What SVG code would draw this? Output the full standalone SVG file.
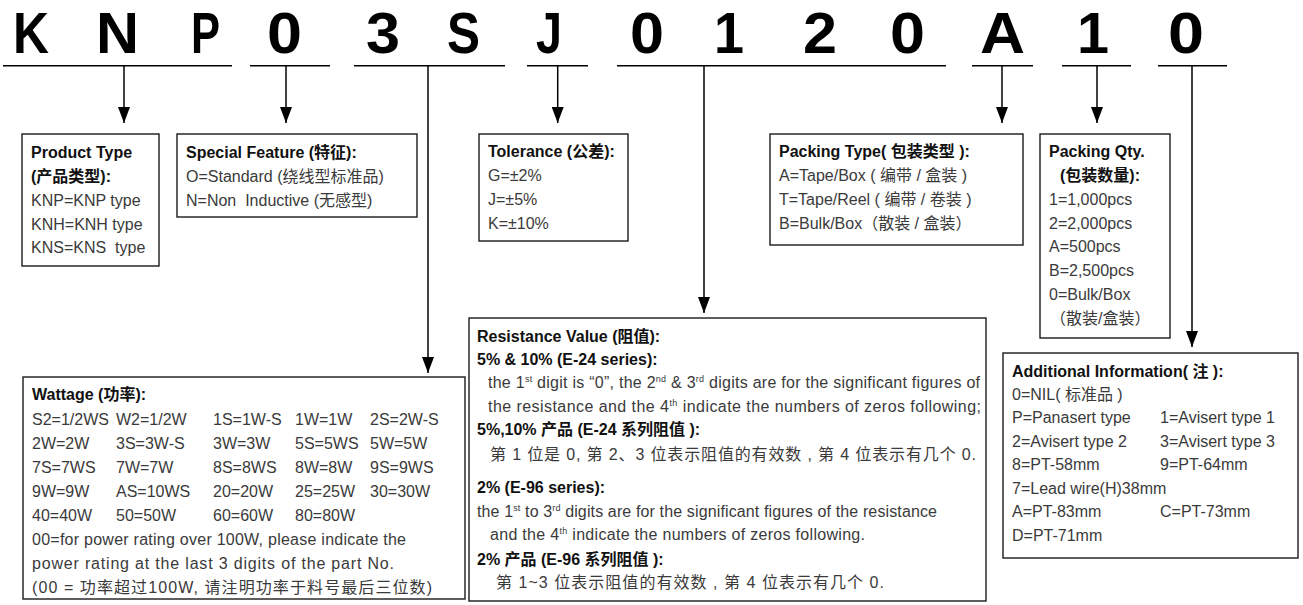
<svg xmlns="http://www.w3.org/2000/svg" width="1303" height="605" viewBox="0 0 1303 605">
<style>
.big{font-family:"Liberation Sans",Arial,sans-serif;font-weight:700;font-size:58px;fill:#000}
.t{font-family:"Liberation Sans","Noto Sans CJK SC",sans-serif;font-weight:700;font-size:16px;fill:#111}
.c{font-family:"Liberation Sans","Noto Sans CJK SC",sans-serif;font-size:16px;fill:#3a3a3a}
.box{fill:#fff;stroke:#1a1a1a;stroke-width:1.4}
.ul{stroke:#000;stroke-width:1.6;fill:none}
.ln{stroke:#000;stroke-width:1.5;fill:none}
.sup{font-size:9px}
</style>
<defs>
<marker id="ah" markerUnits="userSpaceOnUse" markerWidth="16" markerHeight="12" refX="16" refY="6" orient="auto">
<path d="M0,0 L16,6 L0,12 z" fill="#000"/>
</marker>
</defs>

<g id="code">
<text class="big" x="13" y="52.7" textLength="36" lengthAdjust="spacingAndGlyphs">K</text>
<text class="big" x="96" y="52.7" textLength="43" lengthAdjust="spacingAndGlyphs">N</text>
<text class="big" x="191" y="52.7" textLength="29" lengthAdjust="spacingAndGlyphs">P</text>
<text class="big" x="267" y="52.7" textLength="35" lengthAdjust="spacingAndGlyphs">0</text>
<text class="big" x="366" y="52.7" textLength="34" lengthAdjust="spacingAndGlyphs">3</text>
<text class="big" x="447" y="52.7" textLength="33" lengthAdjust="spacingAndGlyphs">S</text>
<text class="big" x="536" y="52.7" textLength="26" lengthAdjust="spacingAndGlyphs">J</text>
<text class="big" x="630" y="52.7" textLength="34" lengthAdjust="spacingAndGlyphs">0</text>
<text class="big" x="714" y="52.7" textLength="30" lengthAdjust="spacingAndGlyphs">1</text>
<text class="big" x="803" y="52.7" textLength="34" lengthAdjust="spacingAndGlyphs">2</text>
<text class="big" x="890" y="52.7" textLength="35" lengthAdjust="spacingAndGlyphs">0</text>
<text class="big" x="980" y="52.7" textLength="45" lengthAdjust="spacingAndGlyphs">A</text>
<text class="big" x="1077" y="52.7" textLength="32" lengthAdjust="spacingAndGlyphs">1</text>
<text class="big" x="1168" y="52.7" textLength="36" lengthAdjust="spacingAndGlyphs">0</text>
</g>

<g id="connectors">
<line class="ul" x1="3" y1="65.7" x2="232" y2="65.7"/>
<line class="ul" x1="250" y1="65.7" x2="330" y2="65.7"/>
<line class="ul" x1="354" y1="65.7" x2="505" y2="65.7"/>
<line class="ul" x1="527" y1="65.7" x2="588" y2="65.7"/>
<line class="ul" x1="617" y1="65.7" x2="946" y2="65.7"/>
<line class="ul" x1="972" y1="65.7" x2="1033" y2="65.7"/>
<line class="ul" x1="1062" y1="65.7" x2="1131" y2="65.7"/>
<line class="ul" x1="1158" y1="65.7" x2="1227" y2="65.7"/>
<line class="ln" x1="124" y1="65.7" x2="124" y2="123" marker-end="url(#ah)"/>
<line class="ln" x1="286" y1="65.7" x2="286" y2="123" marker-end="url(#ah)"/>
<line class="ln" x1="428" y1="65.7" x2="428" y2="373" marker-end="url(#ah)"/>
<line class="ln" x1="557.7" y1="65.7" x2="557.7" y2="123" marker-end="url(#ah)"/>
<line class="ln" x1="704" y1="65.7" x2="704" y2="313" marker-end="url(#ah)"/>
<line class="ln" x1="1002" y1="65.7" x2="1002" y2="123" marker-end="url(#ah)"/>
<line class="ln" x1="1097" y1="65.7" x2="1097" y2="123" marker-end="url(#ah)"/>
<line class="ln" x1="1192" y1="65.7" x2="1192" y2="347" marker-end="url(#ah)"/>
</g>

<g id="product-type">
<rect class="box" x="22" y="134" width="137" height="132"/>
<text class="t" x="31" y="158">Product Type</text>
<text class="t" x="31" y="182">(产品类型):</text>
<text class="c" x="31" y="206">KNP=KNP type</text>
<text class="c" x="31" y="229.5">KNH=KNH type</text>
<text class="c" x="31" y="253" xml:space="preserve">KNS=KNS  type</text>
</g>

<g id="special-feature">
<rect class="box" x="177" y="134" width="240" height="83"/>
<text class="t" x="186" y="158">Special Feature (特征):</text>
<text class="c" x="186" y="182">O=Standard (绕线型标准品)</text>
<text class="c" x="186" y="206" xml:space="preserve">N=Non  Inductive (无感型)</text>
</g>

<g id="tolerance">
<rect class="box" x="479" y="134" width="149" height="107"/>
<text class="t" x="488" y="157">Tolerance (公差):</text>
<text class="c" x="488" y="181">G=±2%</text>
<text class="c" x="488" y="205">J=±5%</text>
<text class="c" x="488" y="229">K=±10%</text>
</g>

<g id="packing-type">
<rect class="box" x="770" y="134" width="253" height="111"/>
<text class="t" x="779" y="157">Packing Type( 包装类型 ):</text>
<text class="c" x="779" y="181">A=Tape/Box ( 编带 / 盒装 )</text>
<text class="c" x="779" y="205">T=Tape/Reel ( 编带 / 卷装 )</text>
<text class="c" x="779" y="229">B=Bulk/Box（散装 / 盒装）</text>
</g>

<g id="packing-qty">
<rect class="box" x="1040" y="134" width="130" height="204"/>
<text class="t" x="1049" y="157">Packing Qty.</text>
<text class="t" x="1060" y="181">(包装数量):</text>
<text class="c" x="1049" y="205">1=1,000pcs</text>
<text class="c" x="1049" y="228.5">2=2,000pcs</text>
<text class="c" x="1049" y="252">A=500pcs</text>
<text class="c" x="1049" y="276">B=2,500pcs</text>
<text class="c" x="1049" y="299.5">0=Bulk/Box</text>
<text class="c" x="1050" y="324">（散装/盒装）</text>
</g>

<g id="wattage">
<rect class="box" x="23" y="377" width="442" height="222"/>
<text class="t" x="32" y="400">Wattage (功率):</text>
<g class="c">
<text x="32" y="425">S2=1/2WS</text><text x="116" y="425">W2=1/2W</text><text x="213" y="425">1S=1W-S</text><text x="295" y="425">1W=1W</text><text x="370" y="425">2S=2W-S</text>
<text x="32" y="449">2W=2W</text><text x="116" y="449">3S=3W-S</text><text x="213" y="449">3W=3W</text><text x="295" y="449">5S=5WS</text><text x="370" y="449">5W=5W</text>
<text x="32" y="473">7S=7WS</text><text x="116" y="473">7W=7W</text><text x="213" y="473">8S=8WS</text><text x="295" y="473">8W=8W</text><text x="370" y="473">9S=9WS</text>
<text x="32" y="497">9W=9W</text><text x="116" y="497">AS=10WS</text><text x="213" y="497">20=20W</text><text x="295" y="497">25=25W</text><text x="370" y="497">30=30W</text>
<text x="32" y="521">40=40W</text><text x="116" y="521">50=50W</text><text x="213" y="521">60=60W</text><text x="295" y="521">80=80W</text>
<text x="32" y="545" textLength="374">00=for power rating over 100W, please indicate the</text>
<text x="32" y="569" textLength="362">power rating at the last 3 digits of the part No.</text>
<text x="32" y="593" textLength="400">(00 = 功率超过100W, 请注明功率于料号最后三位数)</text>
</g>
</g>

<g id="resistance">
<rect class="box" x="469" y="318" width="517" height="283"/>
<text class="t" x="477" y="342">Resistance Value (阻值):</text>
<text class="t" x="477" y="365">5% &amp; 10% (E-24 series):</text>
<text class="c" x="488" y="388" textLength="492">the 1<tspan class="sup" dy="-6">st</tspan><tspan dy="6"> digit is “0”, the 2</tspan><tspan class="sup" dy="-6">nd</tspan><tspan dy="6"> &amp; 3</tspan><tspan class="sup" dy="-6">rd</tspan><tspan dy="6"> digits are for the significant figures of</tspan></text>
<text class="c" x="488" y="412" textLength="493">the resistance and the 4<tspan class="sup" dy="-6">th</tspan><tspan dy="6"> indicate the numbers of zeros following;</tspan></text>
<text class="t" x="477" y="435">5%,10% 产品 (E-24 系列阻值 ):</text>
<text class="c" x="490" y="460" textLength="486">第 1 位是 0, 第 2、3 位表示阻值的有效数 , 第 4 位表示有几个 0.</text>
<text class="t" x="477" y="493">2% (E-96 series):</text>
<text class="c" x="477" y="517" textLength="460">the 1<tspan class="sup" dy="-6">st</tspan><tspan dy="6"> to 3</tspan><tspan class="sup" dy="-6">rd</tspan><tspan dy="6"> digits are for the significant figures of the resistance</tspan></text>
<text class="c" x="490" y="540" textLength="375">and the 4<tspan class="sup" dy="-6">th</tspan><tspan dy="6"> indicate the numbers of zeros following.</tspan></text>
<text class="t" x="477" y="565">2% 产品 (E-96 系列阻值 ):</text>
<text class="c" x="496" y="588" textLength="388">第 1~3 位表示阻值的有效数 , 第 4 位表示有几个 0.</text>
</g>

<g id="additional-info">
<rect class="box" x="1003" y="353" width="295" height="205"/>
<text class="t" x="1012" y="377">Additional Information( 注 ):</text>
<g class="c">
<text x="1012" y="400">0=NIL( 标准品 )</text>
<text x="1012" y="423">P=Panasert type</text><text x="1160" y="423">1=Avisert type 1</text>
<text x="1012" y="447">2=Avisert type 2</text><text x="1160" y="447">3=Avisert type 3</text>
<text x="1012" y="470">8=PT-58mm</text><text x="1160" y="470">9=PT-64mm</text>
<text x="1012" y="494">7=Lead wire(H)38mm</text>
<text x="1012" y="517">A=PT-83mm</text><text x="1160" y="517">C=PT-73mm</text>
<text x="1012" y="541">D=PT-71mm</text>
</g>
</g>
</svg>
